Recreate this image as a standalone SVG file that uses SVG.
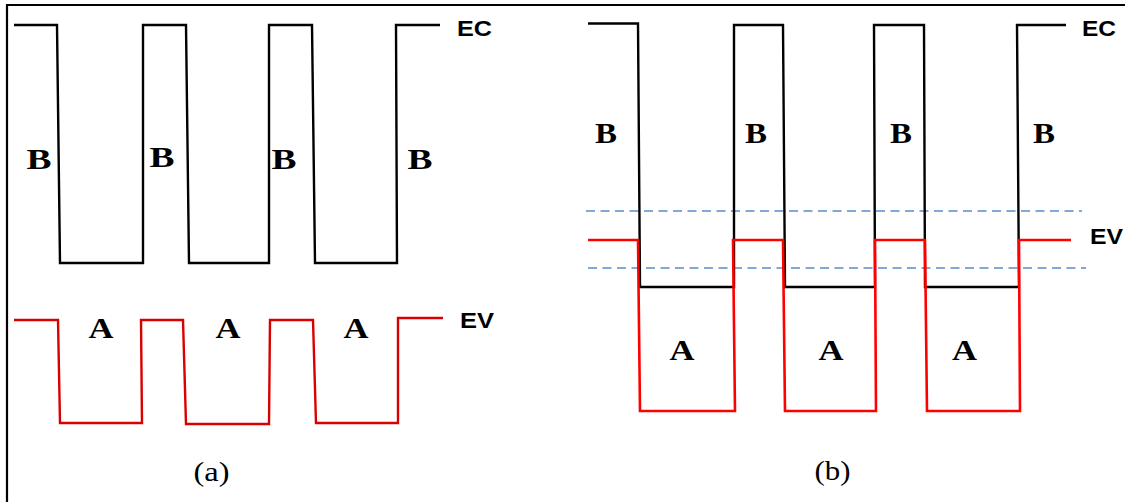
<svg xmlns="http://www.w3.org/2000/svg" width="1128" height="502" viewBox="0 0 1128 502">
<style>
.blk{fill:none;stroke:#000;stroke-width:2.4;stroke-linejoin:miter}
.reda{fill:none;stroke:#d90000;stroke-width:2.4}
.redb{fill:none;stroke:#ff0000;stroke-width:2.6}
.dash{fill:none;stroke:#5b8ccc;stroke-width:1.6;stroke-dasharray:9 5.5}
.lbl{font-family:"Liberation Serif","Times New Roman",serif;font-weight:bold;text-anchor:middle;fill:#000}
.band{font-family:"Liberation Sans",Arial,sans-serif;font-weight:bold;font-size:22px;fill:#000}
.cap{font-family:"Liberation Serif","Times New Roman",serif;font-size:28px;text-anchor:middle;fill:#000}
</style>
<rect width="1128" height="502" fill="#fff"/>
<g id="frame">
<polyline points="7,502 7,5 1125,5" fill="none" stroke="#000" stroke-width="2.2"/>
</g>
<g id="panel-a">
<polyline class="blk" points="14,25 57,25 60,263 143,263 143,25 186,25 189,263 269,263 269,25 312,25 315,263 397,263 396,25 440,25"/>
<polyline class="reda" points="14,320 58,320 60,423 142,423 141,320 183,320 186,424 269,424 270,320 313,320 316,423 398,423 398,318 443,318"/>
<text class="band" x="457" y="36" textLength="35" lengthAdjust="spacingAndGlyphs">EC</text>
<text class="band" x="460" y="328" textLength="34" lengthAdjust="spacingAndGlyphs">EV</text>
<g font-size="28.5">
<text class="lbl" x="39" y="169" textLength="25" lengthAdjust="spacingAndGlyphs">B</text>
<text class="lbl" x="162" y="167" textLength="25" lengthAdjust="spacingAndGlyphs">B</text>
<text class="lbl" x="284" y="169" textLength="25" lengthAdjust="spacingAndGlyphs">B</text>
<text class="lbl" x="420" y="169" textLength="25" lengthAdjust="spacingAndGlyphs">B</text>
</g>
<g font-size="29.5">
<text class="lbl" x="101" y="338" textLength="25" lengthAdjust="spacingAndGlyphs">A</text>
<text class="lbl" x="228" y="338" textLength="25" lengthAdjust="spacingAndGlyphs">A</text>
<text class="lbl" x="356" y="338" textLength="25" lengthAdjust="spacingAndGlyphs">A</text>
</g>
<text class="cap" x="211.5" y="481" textLength="36" lengthAdjust="spacingAndGlyphs">(a)</text>
</g>
<g id="panel-b">
<polyline class="dash" points="586,211 1082,211"/>
<polyline class="dash" points="588,268 1086,268"/>
<polyline class="blk" points="588,23.5 638,23.5 640,287 734,287 734,25 783,25 785,287 875,287 874,25 924,25 925,287 1019,287 1017,25 1066,25"/>
<polyline class="redb" points="588,240 638,240 640,411 735,411 733,240 783,240 785,411 876,411 875,240 925,240 927,411 1020,411 1019,240 1071,240"/>
<text class="band" x="1082" y="36" textLength="34" lengthAdjust="spacingAndGlyphs">EC</text>
<text class="band" x="1090" y="244" textLength="33" lengthAdjust="spacingAndGlyphs">EV</text>
<g font-size="29.5">
<text class="lbl" x="606" y="143" textLength="22" lengthAdjust="spacingAndGlyphs">B</text>
<text class="lbl" x="756" y="143" textLength="22" lengthAdjust="spacingAndGlyphs">B</text>
<text class="lbl" x="901" y="143" textLength="22" lengthAdjust="spacingAndGlyphs">B</text>
<text class="lbl" x="1044" y="143" textLength="22" lengthAdjust="spacingAndGlyphs">B</text>
</g>
<g font-size="30">
<text class="lbl" x="682" y="360" textLength="25" lengthAdjust="spacingAndGlyphs">A</text>
<text class="lbl" x="831" y="360" textLength="25" lengthAdjust="spacingAndGlyphs">A</text>
<text class="lbl" x="964.5" y="360" textLength="25" lengthAdjust="spacingAndGlyphs">A</text>
</g>
<text class="cap" x="832.5" y="480" textLength="36" lengthAdjust="spacingAndGlyphs">(b)</text>
</g>
</svg>
